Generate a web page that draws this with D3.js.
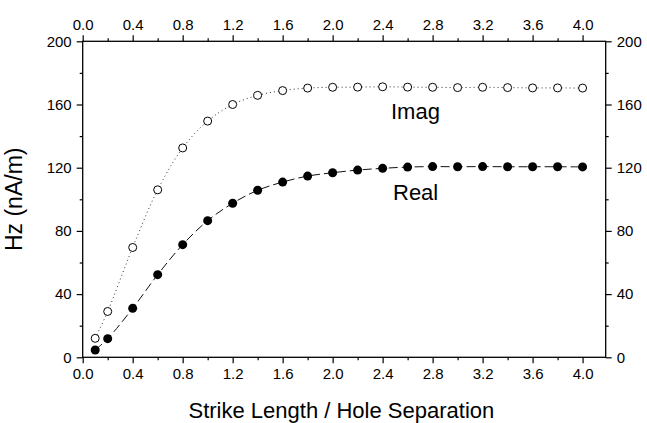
<!DOCTYPE html>
<html>
<head>
<meta charset="utf-8">
<script src="https://cdn.jsdelivr.net/npm/d3@7"></script>
<style>
  body { margin: 0; background: #fff; }
  text { font-family: "Liberation Sans", Arial, sans-serif; fill: #000; }
</style>
</head>
<body>
<script>
// Data
const xs = [0.1, 0.2, 0.4, 0.6, 0.8, 1.0, 1.2, 1.4, 1.6, 1.8, 2.0, 2.2, 2.4, 2.6, 2.8, 3.0, 3.2, 3.4, 3.6, 3.8, 4.0];
const imagVals = [12, 29, 69.5, 106, 132.5, 149.5, 160, 165.8, 168.8, 170.4, 170.9, 171, 171.2, 171, 170.9, 170.7, 170.9, 170.7, 170.5, 170.5, 170.4];
const realVals = [4.6, 11.8, 31, 52.3, 71.3, 86.5, 97.5, 105.7, 110.9, 114.7, 116.8, 118.5, 119.6, 120.4, 120.7, 120.6, 120.7, 120.6, 120.6, 120.6, 120.5];
const xTicks = [0, 0.4, 0.8, 1.2, 1.6, 2.0, 2.4, 2.8, 3.2, 3.6, 4.0];
const xMinor = d3.range(0.2, 4.2, 0.4);
const yTicks = [0, 40, 80, 120, 160, 200];
const yMinor = [20, 60, 100, 140, 180];

const width = 647, height = 423;
const margin = { top: 41.3, right: 41.3, bottom: 65.7, left: 82.7 };
const innerW = width - margin.left - margin.right;
const innerH = height - margin.top - margin.bottom;

const svg = d3.select('body').append('svg')
  .attr('width', width).attr('height', height);
const g = svg.append('g')
  .attr('transform', `translate(${margin.left},${margin.top})`);

const x = d3.scaleLinear().domain([0, 4.185]).range([0, innerW]);
const y = d3.scaleLinear().domain([0, 200]).range([innerH, 0]);

const fmtX = d3.format('.1f');

function styleAxis(sel) {
  sel.select('.domain').remove();
  sel.selectAll('line').attr('stroke', '#000').attr('stroke-width', 1.2);
  sel.selectAll('text').style('font-size', '15px').style('font-family', '"Liberation Sans", Arial, sans-serif');
}

// major axes
g.append('g').attr('transform', `translate(0,${innerH})`)
  .call(d3.axisBottom(x).tickValues(xTicks).tickFormat(fmtX).tickSize(6).tickPadding(5))
  .call(styleAxis);
g.append('g')
  .call(d3.axisTop(x).tickValues(xTicks).tickFormat(fmtX).tickSize(6).tickPadding(5))
  .call(styleAxis);
g.append('g')
  .call(d3.axisLeft(y).tickValues(yTicks).tickSize(6).tickPadding(5))
  .call(styleAxis);
g.append('g').attr('transform', `translate(${innerW},0)`)
  .call(d3.axisRight(y).tickValues(yTicks).tickSize(6).tickPadding(5))
  .call(styleAxis);

// minor ticks
g.append('g').attr('transform', `translate(0,${innerH})`)
  .call(d3.axisBottom(x).tickValues(xMinor).tickFormat('').tickSize(3)).call(styleAxis);
g.append('g')
  .call(d3.axisTop(x).tickValues(xMinor).tickFormat('').tickSize(3)).call(styleAxis);
g.append('g')
  .call(d3.axisLeft(y).tickValues(yMinor).tickFormat('').tickSize(3)).call(styleAxis);
g.append('g').attr('transform', `translate(${innerW},0)`)
  .call(d3.axisRight(y).tickValues(yMinor).tickFormat('').tickSize(3)).call(styleAxis);

// frame
g.append('rect')
  .attr('width', innerW).attr('height', innerH)
  .attr('fill', 'none').attr('stroke', '#000').attr('stroke-width', 1.3);

const imag = xs.map((d, i) => [d, imagVals[i]]);
const real = xs.map((d, i) => [d, realVals[i]]);

const line = d3.line()
  .x(d => x(d[0])).y(d => y(d[1]))
  .curve(d3.curveCatmullRom);

g.append('path').datum(imag)
  .attr('d', line).attr('fill', 'none')
  .attr('stroke', '#333').attr('stroke-width', 1)
  .attr('stroke-dasharray', '1,3');

g.append('path').datum(real)
  .attr('d', line).attr('fill', 'none')
  .attr('stroke', '#111').attr('stroke-width', 1)
  .attr('stroke-dasharray', '9,4');

g.selectAll('.imag').data(imag).enter().append('circle')
  .attr('class', 'imag')
  .attr('cx', d => x(d[0])).attr('cy', d => y(d[1])).attr('r', 4)
  .attr('fill', '#fff').attr('stroke', '#000').attr('stroke-width', 1);

g.selectAll('.real').data(real).enter().append('circle')
  .attr('class', 'real')
  .attr('cx', d => x(d[0])).attr('cy', d => y(d[1])).attr('r', 4.5)
  .attr('fill', '#000');

// series labels
svg.append('text').attr('x', 391).attr('y', 119)
  .style('font-size', '22px').text('Imag');
svg.append('text').attr('x', 393).attr('y', 200)
  .style('font-size', '22px').text('Real');

// axis titles
svg.append('text')
  .attr('x', margin.left + x(2.07)).attr('y', 418)
  .attr('text-anchor', 'middle')
  .style('font-size', '22px')
  .text('Strike Length / Hole Separation');

svg.append('text')
  .attr('transform', `translate(22,${margin.top + innerH / 2}) rotate(-90)`)
  .attr('text-anchor', 'middle')
  .style('font-size', '23px')
  .text('Hz (nA/m)');
</script>
</body>
</html>
